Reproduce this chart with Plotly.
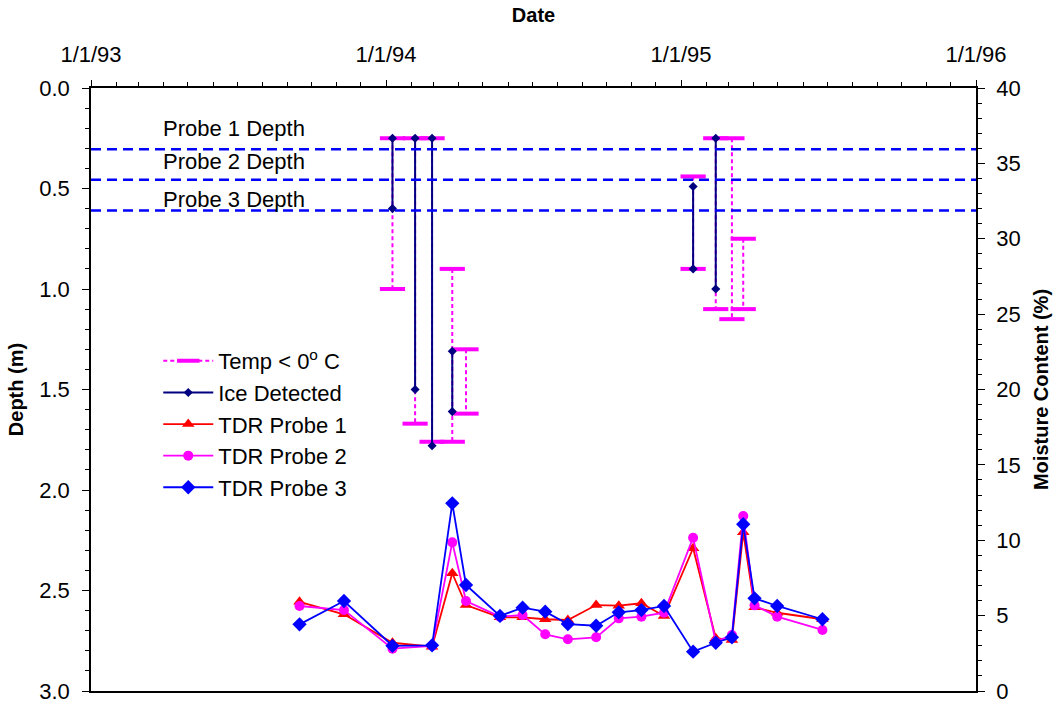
import plotly.graph_objects as go

# TDR sampling dates and volumetric moisture content (%) per probe
tdr_dates = ["1993-09-16", "1993-11-10", "1994-01-09", "1994-02-27", "1994-03-24",
             "1994-04-10", "1994-05-22", "1994-06-19", "1994-07-17", "1994-08-14",
             "1994-09-18", "1994-10-16", "1994-11-13", "1994-12-11", "1995-01-16",
             "1995-02-13", "1995-03-05", "1995-03-19", "1995-04-02", "1995-04-30",
             "1995-06-25"]
tdr_probe1 = [5.92, 5.09, 3.20, 2.94, 7.81, 5.70, 4.89, 4.89, 4.76, 4.71, 5.70,
              5.66, 5.82, 4.98, 9.47, 3.50, 3.38, 10.53, 5.55, 5.19, 4.76]
tdr_probe2 = [5.64, 5.37, 2.81, 2.99, 9.86, 5.97, 4.93, 5.04, 3.76, 3.43, 3.56,
              4.82, 4.93, 5.19, 10.17, 3.27, 3.71, 11.61, 5.68, 4.93, 4.05]
tdr_probe3 = [4.42, 5.97, 3.00, 3.03, 12.45, 7.03, 4.98, 5.53, 5.26, 4.44, 4.33,
              5.22, 5.37, 5.64, 2.61, 3.20, 3.56, 11.06, 6.15, 5.64, 4.76]

# Depth range (m) where soil temperature was below freezing
frost_dates = ["1994-01-09", "1994-02-06", "1994-02-27", "1994-03-24", "1994-04-10",
               "1995-01-16", "1995-02-13", "1995-03-05", "1995-03-19"]
frost_top = [0.25, 0.25, 0.25, 0.90, 1.30, 0.44, 0.25, 0.25, 0.75]
frost_bottom = [1.00, 1.67, 1.76, 1.76, 1.62, 0.90, 1.10, 1.15, 1.10]

# Depth range (m) where ice was detected
ice_dates = ["1994-01-09", "1994-02-06", "1994-02-27", "1994-03-24",
             "1995-01-16", "1995-02-13"]
ice_top = [0.25, 0.25, 0.25, 1.31, 0.49, 0.25]
ice_bottom = [0.60, 1.50, 1.78, 1.61, 0.90, 1.00]

# TDR probe installation depths (m)
probe_names = ["Probe 1 Depth", "Probe 2 Depth", "Probe 3 Depth"]
probe_depths = [0.305, 0.457, 0.610]

# Axis ticks
x_tick_dates = ["1993-01-01", "1994-01-01", "1995-01-01", "1996-01-01"]
x_tick_labels = ["1/1/93", "1/1/94", "1/1/95", "1/1/96"]


def vertical_segments(dates, tops, bottoms):
    xs, ys = [], []
    for d, t, b in zip(dates, tops, bottoms):
        xs += [d, d, None]
        ys += [t, b, None]
    return xs, ys


FONT = "Liberation Sans, Arial, sans-serif"
fig = go.Figure()

fx, fy = vertical_segments(frost_dates, frost_top, frost_bottom)
fig.add_trace(go.Scatter(
    x=fx, y=fy, mode="lines+markers", name="Temp &lt; 0<sup>o</sup> C",
    legendgroup="frost",
    line=dict(color="#FF00FF", width=2, dash="4px,3px"),
    marker=dict(symbol="line-ew", size=18, color="#FF00FF",
                line=dict(color="#FF00FF", width=4)),
    yaxis="y"))

ix, iy = vertical_segments(ice_dates, ice_top, ice_bottom)
fig.add_trace(go.Scatter(
    x=ix, y=iy, mode="lines+markers", name="Ice Detected",
    legendgroup="ice",
    line=dict(color="#000080", width=2),
    marker=dict(symbol="diamond", size=7, color="#000080"),
    yaxis="y"))

series = [
    ("TDR Probe 1", tdr_probe1, "#FF0000", "triangle-up", 11),
    ("TDR Probe 2", tdr_probe2, "#FF00FF", "circle", 10),
    ("TDR Probe 3", tdr_probe3, "#0000FF", "diamond", 11),
]
for name, vals, color, sym, size in series:
    fig.add_trace(go.Scatter(
        x=tdr_dates, y=vals, mode="lines+markers", name=name,
        legendgroup=name,
        line=dict(color=color, width=1.8),
        marker=dict(symbol=sym, size=size, color=color),
        yaxis="y2"))

# Probe depth reference lines and labels
label_offsets = [-0.105, -0.091, -0.057]
for name, depth, off in zip(probe_names, probe_depths, label_offsets):
    fig.add_shape(type="line", xref="paper", x0=0, x1=1, yref="y",
                  y0=depth, y1=depth,
                  line=dict(color="#0000FF", width=2.5, dash="10px,6px"))
    fig.add_annotation(text=name, xref="paper", x=0.079, yref="y",
                       y=depth + off, xanchor="left", yanchor="middle",
                       showarrow=False, font=dict(size=22, color="black"))

axis_common = dict(showline=True, linecolor="black", linewidth=1.5,
                   showgrid=False, zeroline=False, tickcolor="black",
                   automargin=False,
                   tickfont=dict(size=22, color="black"))

fig.update_layout(
    width=1053, height=706,
    margin=dict(l=91, r=77, t=88, b=15),
    paper_bgcolor="white", plot_bgcolor="white",
    font=dict(family=FONT, color="black"),
    showlegend=True,
    legend=dict(x=0.076, y=0.582, xanchor="left", yanchor="top",
                bgcolor="rgba(0,0,0,0)", font=dict(size=22),
                traceorder="normal", itemwidth=50, tracegroupgap=2),
    xaxis=dict(
        type="date", side="top", range=["1993-01-01", "1996-01-01"],
        tickmode="array", tickvals=x_tick_dates, ticktext=x_tick_labels,
        ticks="outside", ticklen=6, mirror=True, ticklabelstandoff=9,
        minor=dict(dtick="M1", ticks="outside", ticklen=4, tickcolor="black"),
        title=dict(text="<b>Date</b>", font=dict(size=20), standoff=14),
        **axis_common),
    yaxis=dict(
        range=[3, 0], tickmode="array", tickvals=[0, 0.5, 1, 1.5, 2, 2.5, 3],
        tickformat=".1f", ticks="outside", ticklen=7, ticklabelstandoff=8,
        minor=dict(dtick=0.1, ticks="outside", ticklen=4, tickcolor="black"),
        title=dict(text="<b>Depth (m)</b>", font=dict(size=20), standoff=10),
        **axis_common),
    yaxis2=dict(
        overlaying="y", side="right", range=[0, 40], dtick=5,
        ticks="outside", ticklen=7, ticklabelstandoff=7,
        minor=dict(dtick=1, ticks="outside", ticklen=4, tickcolor="black"),
        title=dict(text="<b>Moisture Content (%)</b>", font=dict(size=20),
                   standoff=14),
        **axis_common),
)

fig.write_html("out.html")
